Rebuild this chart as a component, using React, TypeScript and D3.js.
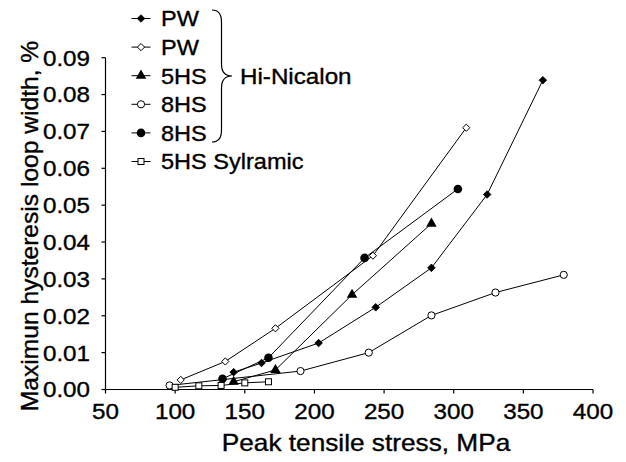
import React from "react";
import * as d3 from "d3";

// ---- data ----
const pwFilledX = [142, 162, 203, 244, 284, 324, 364];
const pwFilledY = [0.0047, 0.0072, 0.0126, 0.0223, 0.033, 0.0529, 0.0839];

const pwOpenX = [104, 136, 172, 242, 309];
const pwOpenY = [0.0026, 0.0076, 0.0166, 0.0363, 0.071];

const hs5TriX = [142, 172, 227, 284];
const hs5TriY = [0.0021, 0.0053, 0.0257, 0.045];

const hs8OpenX = [96, 190, 239, 284, 330, 379];
const hs8OpenY = [0.0011, 0.005, 0.01, 0.0201, 0.0263, 0.0311];

const hs8FilledX = [134, 167, 236, 303];
const hs8FilledY = [0.0029, 0.0086, 0.0357, 0.0544];

const sylX = [100, 117, 133, 150, 167];
const sylY = [0.0006, 0.001, 0.0011, 0.0018, 0.0021];

const xTicks = [50, 100, 150, 200, 250, 300, 350, 400];
const yTicks = [0, 0.01, 0.02, 0.03, 0.04, 0.05, 0.06, 0.07, 0.08, 0.09];

const legendLabels = ["PW", "PW", "5HS", "8HS", "8HS", "5HS Sylramic"];
const groupLabel = "Hi-Nicalon";
const xTitle = "Peak tensile stress, MPa";
const yTitle = "Maximun hysteresis loop width, %";

type MarkerKind = "diamondFilled" | "diamondOpen" | "triangle" | "circleOpen" | "circleFilled" | "square";

const series: { x: number[]; y: number[]; marker: MarkerKind }[] = [
  { x: pwFilledX, y: pwFilledY, marker: "diamondFilled" },
  { x: pwOpenX, y: pwOpenY, marker: "diamondOpen" },
  { x: hs5TriX, y: hs5TriY, marker: "triangle" },
  { x: hs8OpenX, y: hs8OpenY, marker: "circleOpen" },
  { x: hs8FilledX, y: hs8FilledY, marker: "circleFilled" },
  { x: sylX, y: sylY, marker: "square" },
];

const FONT = "Arial, 'Liberation Sans', Helvetica, sans-serif";

function Marker({ kind, cx, cy }: { kind: MarkerKind; cx: number; cy: number }) {
  const t = `translate(${cx},${cy})`;
  switch (kind) {
    case "diamondFilled":
      return <path transform={t} d="M0,-3.8L3.8,0L0,3.8L-3.8,0Z" fill="#000" stroke="#000" strokeWidth={0.8} />;
    case "diamondOpen":
      return <path transform={t} d="M0,-3.6L3.6,0L0,3.6L-3.6,0Z" fill="#fff" stroke="#000" strokeWidth={1} />;
    case "triangle":
      return <path transform={t} d={d3.symbol().type(d3.symbolTriangle).size(48)() || ""} fill="#000" />;
    case "circleOpen":
      return <circle cx={cx} cy={cy} r={3.6} fill="#fff" stroke="#000" strokeWidth={1} />;
    case "circleFilled":
      return <circle cx={cx} cy={cy} r={4.3} fill="#000" />;
    case "square":
      return <rect x={cx - 3} y={cy - 3} width={6} height={6} fill="#fff" stroke="#000" strokeWidth={1} />;
  }
}

function T({
  x,
  y,
  sx = 1.1,
  rotate = 0,
  size = 22,
  anchor = "start",
  children,
}: {
  x: number;
  y: number;
  sx?: number;
  rotate?: number;
  size?: number;
  anchor?: "start" | "middle" | "end";
  children: React.ReactNode;
}) {
  return (
    <text
      transform={`translate(${x},${y}) rotate(${rotate}) scale(${sx},1)`}
      dy="0.36em"
      textAnchor={anchor}
      fontSize={size}
      fill="#000"
      stroke="#000"
      strokeWidth={0.35}
    >
      {children}
    </text>
  );
}

export default function App() {
  const xScale = d3.scaleLinear().domain([50, 400]).range([105.5, 593]);
  const yScale = d3.scaleLinear().domain([0, 0.09]).range([389.5, 57.7]);
  const line = d3
    .line<[number, number]>()
    .x((d) => xScale(d[0]))
    .y((d) => yScale(d[1]));

  const legendY0 = 18.5;
  const legendStep = 28.6;

  return (
    <svg
      width={626}
      height={462}
      style={{ position: "absolute", left: 0, top: 0, background: "#fff" }}
      fontFamily={FONT}
    >
      <rect width={626} height={462} fill="#fff" />
      {/* axes */}
      <line x1={xScale(50)} x2={xScale(400)} y1={yScale(0)} y2={yScale(0)} stroke="#000" strokeWidth={1.2} />
      <line x1={xScale(50)} x2={xScale(50)} y1={yScale(0)} y2={yScale(0.09)} stroke="#000" strokeWidth={1.2} />
      {xTicks.map((v) => (
        <g key={"xt" + v}>
          <line x1={xScale(v)} x2={xScale(v)} y1={yScale(0)} y2={yScale(0) + 4} stroke="#000" strokeWidth={1.2} />
          <T x={xScale(v)} y={yScale(0) + 22} anchor="middle">
            {v}
          </T>
        </g>
      ))}
      {yTicks.map((v) => (
        <g key={"yt" + v}>
          <line x1={xScale(50) - 4} x2={xScale(50)} y1={yScale(v)} y2={yScale(v)} stroke="#000" strokeWidth={1.2} />
          <T x={90} y={yScale(v)} anchor="end">
            {v.toFixed(2)}
          </T>
        </g>
      ))}
      <T x={366} y={443} anchor="middle" size={23} sx={1.14}>
        {xTitle}
      </T>
      <T x={30} y={226} anchor="middle" size={23} sx={1.07} rotate={-90}>
        {yTitle}
      </T>

      {/* series */}
      {series.map((s, i) => {
        const pts = s.x.map((x, j) => [x, s.y[j]] as [number, number]);
        return (
          <g key={"s" + i}>
            <path d={line(pts) || ""} fill="none" stroke="#000" strokeWidth={1} />
            {pts.map((p, j) => (
              <Marker key={j} kind={s.marker} cx={xScale(p[0])} cy={yScale(p[1])} />
            ))}
          </g>
        );
      })}

      {/* legend */}
      {series.map((s, i) => {
        const cy = legendY0 + i * legendStep;
        return (
          <g key={"lg" + i}>
            <line x1={131.5} x2={150.5} y1={cy} y2={cy} stroke="#000" strokeWidth={1} />
            <Marker kind={s.marker} cx={141} cy={cy} />
            <T x={161} y={cy} sx={1.07}>
              {legendLabels[i]}
            </T>
          </g>
        );
      })}
      <path
        d="M212,10 Q221.5,10 221.5,22 L221.5,64 Q221.5,76 232,76 Q221.5,76 221.5,88 L221.5,130 Q221.5,142 212,142"
        fill="none"
        stroke="#000"
        strokeWidth={1.2}
      />
      <T x={240} y={76} sx={1.1}>
        {groupLabel}
      </T>
    </svg>
  );
}
